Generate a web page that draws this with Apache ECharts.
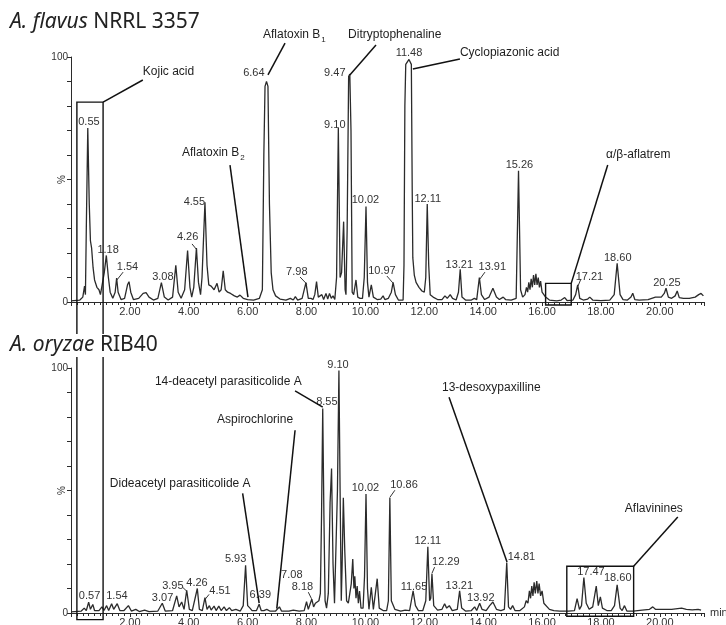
<!DOCTYPE html>
<html><head><meta charset="utf-8">
<script src="https://cdn.jsdelivr.net/npm/echarts@6.0.0/dist/echarts.min.js"></script>
<style>html,body{margin:0;padding:0;background:#fff}#c{width:726px;height:625px}</style>
</head><body><div id="c"></div>
<script>
// ---------- DATA (retention time in min, relative intensity %) ----------
const flavusTrace = [
[0.00,0.5],[0.30,0.8],[0.40,2],[0.46,6.5],[0.49,3],[0.52,30],[0.57,71],[0.62,40],[0.66,25],[0.70,22],[0.75,14],[0.80,9],[0.88,6],[0.95,5],[1.00,3],[1.06,3],[1.13,12],[1.20,19],[1.27,10],[1.33,4],[1.42,1.5],[1.50,4],[1.55,9.8],[1.60,4],[1.70,1],[1.82,1.5],[1.92,7],[1.97,8.3],[2.03,4],[2.12,1],[2.30,1.5],[2.45,3.5],[2.55,3.8],[2.65,2],[2.80,0.8],[2.95,1.5],[3.07,7.9],[3.17,2],[3.30,0.8],[3.45,2],[3.56,15],[3.64,4],[3.74,1.5],[3.86,5],[3.96,21],[4.04,6],[4.10,2],[4.17,6],[4.26,22],[4.33,8],[4.40,3],[4.45,10],[4.55,40.7],[4.62,15],[4.68,7],[4.76,6.5],[4.86,5],[4.96,7.6],[5.03,4],[5.10,5],[5.17,12.7],[5.24,5],[5.32,4],[5.42,3.5],[5.55,2.5],[5.65,2],[5.74,2.8],[5.85,1.5],[6.00,1],[6.20,0.8],[6.40,1.5],[6.50,5],[6.55,60],[6.59,88],[6.64,90],[6.69,88],[6.74,40],[6.80,12],[6.86,5],[6.95,2.5],[7.10,1.2],[7.30,0.8],[7.45,1.5],[7.55,0.8],[7.62,2.2],[7.70,0.8],[7.85,1.5],[7.98,7.9],[8.06,1.5],[8.15,1.5],[8.22,1],[8.28,3],[8.34,8.3],[8.40,2],[8.46,1.5],[8.52,3],[8.58,1],[8.66,3.5],[8.72,1.2],[8.78,3.5],[8.84,1.5],[8.90,2.5],[8.96,1],[9.02,10],[9.08,71],[9.14,10],[9.19,12],[9.26,32.8],[9.31,5],[9.34,3],[9.38,30],[9.43,92],[9.47,93],[9.51,70],[9.55,4],[9.60,3],[9.68,9],[9.74,2],[9.82,1.5],[9.90,1.5],[9.96,10],[10.02,39],[10.07,8],[10.12,2],[10.20,7],[10.27,2],[10.40,1],[10.52,1.2],[10.60,2.5],[10.66,1],[10.78,1.5],[10.88,4],[10.94,8],[11.02,3],[11.12,0.8],[11.28,0.8],[11.31,15],[11.34,80],[11.37,97],[11.48,99],[11.56,97],[11.59,45],[11.61,18],[11.66,11],[11.72,8],[11.82,6],[11.92,4.5],[12.00,4],[12.05,10],[12.10,40],[12.15,15],[12.20,3],[12.30,2],[12.45,1],[12.60,1],[12.70,2.5],[12.78,1.5],[12.88,3],[12.96,1.5],[13.08,0.8],[13.16,4],[13.22,13.3],[13.28,2],[13.40,0.8],[13.60,0.8],[13.70,1.5],[13.78,1],[13.87,10],[13.94,3],[14.05,1],[14.20,2],[14.33,5.6],[14.45,2],[14.55,1],[14.68,2],[14.76,1],[14.95,0.8],[15.12,1.5],[15.20,53.6],[15.27,5],[15.34,2],[15.42,3],[15.47,6],[15.51,4],[15.55,8],[15.59,5],[15.63,9.5],[15.67,6],[15.71,11],[15.75,7],[15.79,11.5],[15.83,7],[15.87,10],[15.91,6],[15.95,8.5],[16.00,4],[16.05,4.5],[16.12,2],[16.25,0.8],[16.50,0.5],[16.65,0.8],[16.77,1.8],[16.85,0.6],[17.05,0.8],[17.14,3],[17.21,7],[17.28,1.5],[17.40,0.8],[17.55,1.2],[17.62,2],[17.72,0.8],[18.00,0.6],[18.30,0.8],[18.45,3],[18.55,15.8],[18.65,3],[18.75,1],[18.90,0.8],[19.02,2],[19.08,3.6],[19.15,1],[19.30,0.8],[19.60,1],[19.85,2],[20.05,2],[20.15,3.5],[20.21,5.6],[20.29,2],[20.40,1.5],[20.52,2.5],[20.59,4.5],[20.66,1.8],[20.80,1.5],[21.00,1.5],[21.20,2],[21.32,3],[21.40,3.5],[21.48,2.5]
];
const oryzaeTrace = [
[0.00,0.5],[0.35,0.8],[0.45,2],[0.52,1],[0.60,4.4],[0.66,1.5],[0.74,3.5],[0.80,1],[0.95,1],[1.05,2.5],[1.12,1],[1.21,3],[1.28,1],[1.38,3.8],[1.45,1.5],[1.57,3.8],[1.66,1],[1.80,1],[1.95,3],[2.05,0.8],[2.20,1.5],[2.32,0.6],[2.50,1.2],[2.65,0.6],[2.95,0.8],[3.10,4],[3.20,0.8],[3.45,1],[3.59,7],[3.67,2.5],[3.76,4.5],[3.84,1.5],[3.93,9.3],[4.02,1.5],[4.12,1],[4.29,10],[4.36,1.5],[4.46,1],[4.55,6.3],[4.62,1.5],[4.70,3],[4.76,1.2],[4.86,2.8],[4.93,1],[5.02,2.8],[5.10,1],[5.20,2.5],[5.28,1],[5.38,2.2],[5.46,1],[5.60,1.5],[5.75,0.8],[5.85,3],[5.93,19.5],[6.00,3],[6.08,2],[6.15,1],[6.30,1],[6.39,3.6],[6.46,1],[6.55,1],[6.65,1.5],[6.75,0.8],[6.95,0.8],[7.08,2.5],[7.15,0.8],[7.40,0.8],[7.55,1.2],[7.75,0.8],[7.92,1],[8.00,4.6],[8.06,1.5],[8.12,2],[8.18,5.7],[8.24,2.5],[8.30,4],[8.36,3.5],[8.42,5],[8.47,8],[8.51,40],[8.55,83.5],[8.59,40],[8.63,5],[8.68,2],[8.74,8],[8.80,45],[8.85,59],[8.90,20],[8.95,4],[9.00,4],[9.05,50],[9.10,99],[9.14,50],[9.18,5],[9.21,20],[9.25,47],[9.30,25],[9.36,5],[9.42,4],[9.47,8],[9.52,12],[9.57,22],[9.61,10],[9.64,15],[9.68,6],[9.72,11],[9.76,4],[9.80,9],[9.85,2],[9.92,2],[9.97,15],[10.02,48.6],[10.07,10],[10.12,1.5],[10.20,10.5],[10.27,1.5],[10.33,2],[10.40,14],[10.47,2],[10.60,1],[10.72,1],[10.78,5],[10.83,47],[10.88,5],[10.93,5],[11.00,1.5],[11.20,0.8],[11.35,1.2],[11.50,1],[11.56,5],[11.62,9],[11.70,3],[11.80,1],[11.95,1],[12.05,5],[12.12,27],[12.18,5],[12.22,6],[12.26,16],[12.32,3],[12.45,1.2],[12.60,1.5],[12.69,3.8],[12.76,2],[12.85,3],[12.95,1],[13.12,1.5],[13.20,9],[13.27,2],[13.40,0.8],[13.60,1],[13.71,2.5],[13.78,1],[13.88,4],[13.96,1.5],[14.10,1],[14.22,3],[14.33,4.5],[14.45,1.5],[14.60,1],[14.72,1.5],[14.80,20.6],[14.86,2.5],[14.93,1.5],[15.00,3],[15.08,1],[15.25,1],[15.40,2.5],[15.46,5],[15.52,4],[15.57,9],[15.61,6],[15.65,11],[15.69,7],[15.73,12.5],[15.77,8],[15.82,13],[15.86,8],[15.90,12],[15.95,7],[16.00,9],[16.06,4],[16.12,4],[16.25,1.5],[16.40,1],[16.60,0.8],[16.90,0.8],[17.10,1],[17.19,5.9],[17.27,1.5],[17.34,3],[17.42,14.5],[17.50,4],[17.60,1.5],[17.72,2.5],[17.84,11],[17.91,3],[17.98,6.6],[18.05,2],[18.20,1],[18.35,1],[18.46,3],[18.55,11.5],[18.65,2],[18.72,1],[18.80,3],[18.88,0.8],[19.10,0.8],[19.40,1.2],[19.65,1.5],[19.76,2.5],[19.85,1.5],[20.10,1.5],[20.40,1.5],[20.74,2],[20.90,1.5],[21.10,1.3],[21.30,1.5],[21.40,1.2]
];
const xTickLabels = ['', '2.00', '4.00', '6.00', '8.00', '10.00', '12.00', '14.00', '16.00', '18.00', '20.00'];
const yTickLabels = ['0', '', '', '', '', '', '', '', '', '', '100'];
const panelTitles = [['A. flavus', 'NRRL 3357'], ['A. oryzae', 'RIB40']];

// ---------- ANNOTATION LAYOUT (data coordinates of each panel) ----------
const layout = [
 { // A. flavus
  peakLabels: [
   ['0.55',0.61,73.5],['1.18',1.26,21.2],['1.54',1.92,14.3],['3.08',3.12,10.2],['4.26',3.96,26.5],['4.55',4.19,40.8],
   ['6.64',6.21,93.5],['7.98',7.67,12.2],['9.10',8.96,72.2],['9.47',8.96,93.5],['10.02',10.0,41.6],['10.97',10.56,12.7],
   ['11.48',11.48,101.8],['12.11',12.12,42],['13.21',13.19,15.1],['13.91',14.31,14.3],['15.26',15.23,55.9],['17.21',17.61,10.2],
   ['18.60',18.57,18],['20.25',20.24,7.8]
  ],
  hooks: [
   [[1.77,12.2],[1.56,9]],[[4.11,23.7],[4.28,21.2]],[[7.78,10.2],[8.01,7.3]],[[10.73,10.6],[10.93,7.8]],
   [[14.06,12.2],[13.89,9.4]],[[17.32,9.4],[17.22,6.5]]
  ],
  names: [
   ['Kojic acid','',2.44,93.9],['Aflatoxin B','1',6.52,109],['Ditryptophenaline','',9.41,109],
   ['Cyclopiazonic acid','',13.21,101.6],['Aflatoxin B','2',3.77,60.8],['α/β-aflatrem','',18.17,60]
  ],
  leaders: [
   [[1.09,81.6],[2.44,90.6]],[[6.69,92.7],[7.27,105.7]],[[9.47,92.7],[10.36,104.9]],
   [[11.61,95.1],[13.21,99.2]],[[5.40,55.9],[6.01,2]],[[16.99,7.6],[18.23,55.9]]
  ],
  boxes: [[[16.12,7.6],[16.99,-1.2]]]
 },
 { // A. oryzae
  peakLabels: [
   ['0.57',0.63,6.8],['1.54',1.56,6.8],['3.07',3.11,6.3],['3.95',3.46,11.2],['4.26',4.28,12.1],['4.51',5.06,8.8],
   ['5.93',5.59,21.9],['6.39',6.43,7.2],['7.08',7.50,15.7],['8.18',7.86,10.8],['8.55',8.69,86.1],['9.10',9.07,101.2],
   ['10.02',10.0,50.9],['10.86',11.31,52.1],['11.65',11.65,10.8],['12.11',12.12,29.2],['12.29',12.73,20.7],
   ['13.21',13.19,11.2],['13.92',13.92,6.3],['14.81',15.30,22.7],['17.47',17.66,16.6],['18.60',18.57,14.5]
  ],
  hooks: [
   [[3.80,10.4],[3.94,8.8]],[[4.69,7.6],[4.55,5.5]],[[8.06,8.5],[8.17,5.8]],[[11.0,50.1],[10.83,47.2]],[[12.35,18.7],[12.26,16.2]]
  ],
  names: [
   ['Dideacetyl parasiticolide A','',1.32,52.6],['Aspirochlorine','',4.96,79.1],['14-deacetyl parasiticolide A','',2.85,94.3],
   ['13-desoxypaxilline','',12.6,91.8],['Aflavinines','',18.81,42.7]
  ],
  leaders: [
   [[5.83,48.8],[6.39,4]],[[7.61,74.6],[6.99,1.8]],[[7.61,90.7],[8.55,84]],[[12.84,88.1],[14.81,20.8]],[[19.11,19.1],[20.61,39.2]]
  ],
  boxes: [[[16.84,19.1],[19.11,-1.3]]]
 }
];
const spanningBox = [[0.20,81.6],[1.09,-2.7]]; // from panel 1 (top-left) to panel 2 (bottom-right)
const titleAt = [[-2.07,114.3],[-2.07,109.2]];
const percentAt = [-0.31,50];

// ---------- CHART ----------
const FONT = "'Liberation Sans', Arial, sans-serif";
const INK = '#2b2b2b';
const chart = echarts.init(document.getElementById('c'), null, {renderer: 'canvas'});

function xAxisCfg(gi, withName) {
  return {
    type: 'value', gridIndex: gi, min: 0, max: 21.5, interval: 2,
    name: withName ? 'min' : '', nameLocation: 'end', nameGap: 6,
    nameTextStyle: {color: '#333', fontSize: 11, fontFamily: FONT, verticalAlign: 'middle'},
    axisLine: {show: true, onZero: false, lineStyle: {color: INK, width: 1}},
    axisTick: {show: true, inside: false, length: 4, lineStyle: {color: INK}},
    minorTick: {show: true, splitNumber: 10, length: 3, lineStyle: {color: INK}},
    axisLabel: {margin: 4, color: '#333', fontSize: 11, fontFamily: FONT,
      formatter: v => xTickLabels[Math.round(v / 2)] !== undefined && Math.abs(v / 2 - Math.round(v / 2)) < 1e-6 ? xTickLabels[Math.round(v / 2)] : ''},
    splitLine: {show: false}, minorSplitLine: {show: false}
  };
}
function yAxisCfg(gi) {
  return {
    type: 'value', gridIndex: gi, min: 0, max: 100, interval: 10,
    axisLine: {show: true, lineStyle: {color: INK, width: 1}},
    axisTick: {show: true, length: 4, lineStyle: {color: INK}},
    axisLabel: {margin: 3, color: '#333', fontSize: 10, fontFamily: FONT,
      formatter: v => yTickLabels[Math.round(v / 10)] || ''},
    splitLine: {show: false}
  };
}
function seriesCfg(gi, data) {
  return {
    type: 'line', xAxisIndex: gi, yAxisIndex: gi, data: data, showSymbol: false, symbol: 'none',
    smooth: false, sampling: null, lineStyle: {color: INK, width: 1.3}, silent: true, z: 2
  };
}

chart.setOption({
  animation: false,
  backgroundColor: '#fff',
  grid: [
    {left: 71, top: 57, width: 633, height: 245, containLabel: false, outerBoundsMode: 'none'},
    {left: 71, top: 368, width: 633, height: 245, containLabel: false, outerBoundsMode: 'none'}
  ],
  xAxis: [xAxisCfg(0, false), xAxisCfg(1, true)],
  yAxis: [yAxisCfg(0), yAxisCfg(1)],
  series: [seriesCfg(0, flavusTrace), seriesCfg(1, oryzaeTrace)]
});

// ---------- annotations placed through the axes' scales ----------
const P = (gi, p) => chart.convertToPixel({gridIndex: gi}, p);
const gfx = [];
layout.forEach((L, gi) => {
  L.peakLabels.forEach(([txt, t, v]) => {
    const [x, y] = P(gi, [t, v]);
    gfx.push({type: 'text', x, y, z: 50, style: {text: txt, fill: '#333', fontSize: 11, fontFamily: FONT, align: 'center', verticalAlign: 'middle'}});
  });
  L.hooks.forEach(([a, b]) => {
    const [x1, y1] = P(gi, a), [x2, y2] = P(gi, b);
    gfx.push({type: 'line', z: 50, shape: {x1, y1, x2, y2}, style: {stroke: '#333', lineWidth: 1}});
  });
  L.names.forEach(([txt, sub, t, v]) => {
    const [x, y] = P(gi, [t, v]);
    gfx.push({type: 'text', x, y, z: 50, style: {
      text: sub ? txt + '{s|' + sub + '}' : txt, fill: '#1e1e1e', fontSize: 12, fontFamily: FONT,
      align: 'left', verticalAlign: 'middle',
      rich: {s: {fontSize: 8, fontFamily: FONT, fill: '#1e1e1e', padding: [9, 0, 0, 1]}}
    }});
  });
  L.leaders.forEach(([a, b]) => {
    const [x1, y1] = P(gi, a), [x2, y2] = P(gi, b);
    gfx.push({type: 'line', z: 50, shape: {x1, y1, x2, y2}, style: {stroke: '#111', lineWidth: 1.5}});
  });
  L.boxes.forEach(([a, b]) => {
    const [x1, y1] = P(gi, a), [x2, y2] = P(gi, b);
    gfx.push({type: 'rect', z: 50, shape: {x: x1, y: y1, width: x2 - x1, height: y2 - y1}, style: {fill: 'none', stroke: '#111', lineWidth: 1.4}});
  });
  const [px, py] = P(gi, percentAt);
  gfx.push({type: 'text', x: px, y: py, rotation: Math.PI / 2, z: 50, style: {text: '%', fill: '#333', fontSize: 10, fontFamily: FONT, align: 'center', verticalAlign: 'middle'}});
  const [tx, ty] = P(gi, titleAt[gi]);
  gfx.push({type: 'text', x: tx, y: ty, z: 60, style: {
    text: '{i|' + panelTitles[gi][0] + '} ' + panelTitles[gi][1], fill: '#222', fontSize: 21, fontFamily: "'Noto Sans', sans-serif",
    align: 'left', verticalAlign: 'middle', backgroundColor: '#fff', padding: [1, 3, 1, 0],
    rich: {i: {fontStyle: 'italic', fontSize: 21, fontFamily: "'Noto Sans', sans-serif", fill: '#222'}}
  }});
});
{
  const [x1, y1] = P(0, spanningBox[0]), [x2, y2] = P(1, spanningBox[1]);
  gfx.push({type: 'rect', z: 40, shape: {x: x1, y: y1, width: x2 - x1, height: y2 - y1}, style: {fill: 'none', stroke: '#111', lineWidth: 1.4}});
}
chart.setOption({graphic: {elements: gfx}});
</script></body></html>
